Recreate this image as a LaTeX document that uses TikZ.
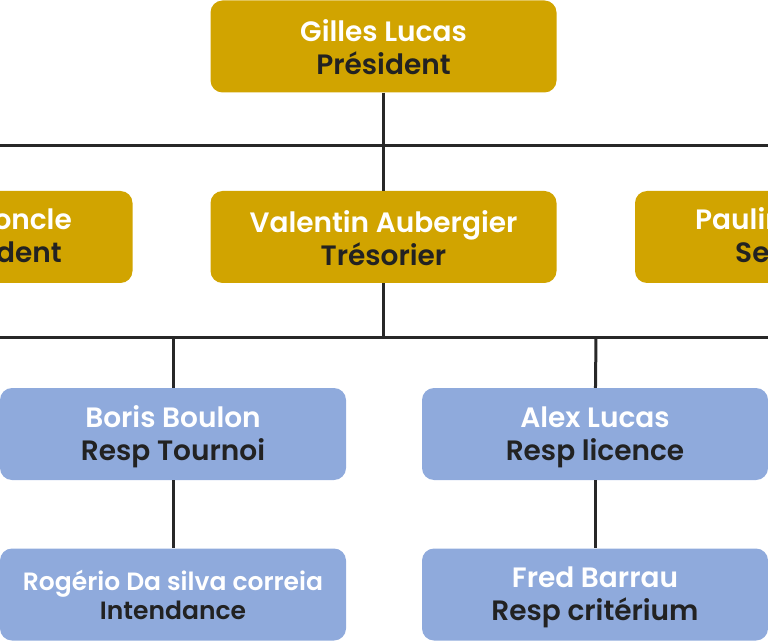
\documentclass[tikz,border=0pt]{standalone}
\usepackage{fontspec}
\setmainfont{Poppins}[BoldFont={Poppins SemiBold}]
\definecolor{gold}{RGB}{209,164,0}
\definecolor{bleu}{RGB}{143,170,220}
\definecolor{encre}{RGB}{34,34,34}
\definecolor{trait}{RGB}{40,40,40}
\tikzset{
  poste/.style={rounded corners=12pt, minimum width=346pt, minimum height=92pt,
    align=center, inner sep=0pt, text=encre,
    font=\bfseries\fontsize{28}{33}\selectfont},
  bureau/.style={poste, fill=gold},
  resp/.style={poste, fill=bleu},
  bout/.style={inner sep=0pt, text=encre, font=\bfseries\fontsize{28}{33}\selectfont},
  lien/.style={draw=trait, line width=3pt}
}
\newcommand{\nom}[1]{{\color{white}\rule{0pt}{0.96em}#1}}
\newcommand{\role}[1]{#1\rule[-0.11em]{0pt}{0.11em}}
\begin{document}
\begin{tikzpicture}[x=1pt,y=-1pt]
  \useasboundingbox (0,0) rectangle (768,644);
  \clip (0,0) rectangle (768,644);

  \node[bureau] (pres) at (383.5,46.5) {\nom{Gilles Lucas}\\\role{Président}};
  \node[bureau] (vp) at (-40.5,237) {};
  \node[bureau] (tres) at (383.5,237) {\nom{Valentin Aubergier}\\\role{Trésorier}};
  \node[bureau] (sec) at (808,237) {};
  % textes coupes par le bord
  \node[bout, text=white, anchor=base east] (vpnom) at (72,230) {oncle};
  \node[bout, anchor=base east] (vprole) at (62,262) {dent};
  \node[bout, text=white, anchor=base west] (secnom) at (695,230) {Paulin};
  \node[bout, anchor=base west] (secrole) at (735,262) {Se};

  \node[resp] (tournoi) at (173,434) {\nom{Boris Boulon}\\\role{Resp Tournoi}};
  \node[resp] (licence) at (595,434) {\nom{Alex Lucas}\\\role{Resp licence}};
  \node[resp, font=\bfseries\fontsize{25}{29}\selectfont] (intend) at (173,594.5)
    {\nom{Rogério Da silva correia}\\\role{Intendance}};
  \node[resp] (crit) at (595,594.5) {\nom{Fred Barrau}\\\role{Resp critérium}};

  \coordinate (bus1g) at (-10,146);
  \coordinate (bus1d) at (778,146);
  \coordinate (bus2g) at (-10,337);
  \coordinate (bus2d) at (778,337);
  \coordinate (bus2) at (383.5,337);
  \coordinate (jt) at (173,337);
  \coordinate (jl) at (596,337);

  \draw[lien] (pres) -- (tres);
  \draw[lien] (bus1g) -- (bus1d);
  \draw[lien] (tres) -- (bus2);
  \draw[lien] (bus2g) -- (bus2d);
  \draw[lien] (jt) -- (tournoi);
  \draw[lien] (jl) -- (licence);
  \draw[lien] (tournoi) -- (intend);
  \draw[lien] (licence) -- (crit);
\end{tikzpicture}
\end{document}
